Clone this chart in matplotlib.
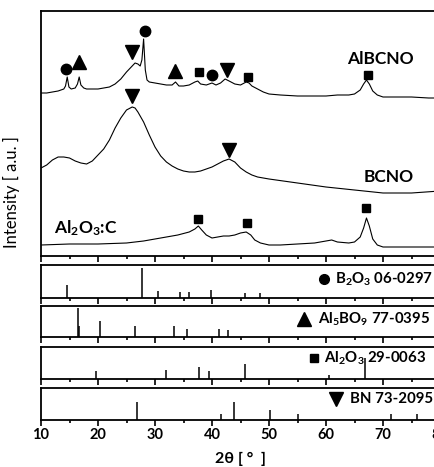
import matplotlib
matplotlib.use('Agg')
import matplotlib.pyplot as plt
import numpy as np
from matplotlib.ticker import MultipleLocator

plt.rcParams['font.family'] = ['Lato', 'DejaVu Sans']
plt.rcParams['mathtext.default'] = 'regular'

# measured XRD curves (2theta, intensity in a.u. incl. offset)
alb_x = [10, 11, 12, 13, 14, 14.3, 14.6, 14.9, 15.3, 16.0, 16.4, 16.7, 17.0, 17.5, 18, 19, 20, 21, 22, 23,
         24, 25, 26, 26.5, 27.0, 27.4, 27.7, 28.0, 28.3, 28.6, 29, 30, 31, 32, 33, 33.6, 34.2, 35, 36, 37,
         37.5, 38, 39, 40, 40.7, 41.5, 42.3, 43, 44, 45, 46, 46.5, 47, 48, 49, 50, 52, 55, 58, 60,
         62, 64, 65, 66, 66.6, 67.1, 67.6, 68.2, 69, 70, 72, 75, 78, 80]
alb_y = [163, 163, 164, 165, 167, 170, 179, 169, 167, 168, 172, 179, 171, 168, 167, 167, 167, 168, 169, 172,
         177, 184, 190, 193, 192, 190, 196, 217, 186, 176, 174, 173, 172, 171, 171, 174, 170, 170, 171, 174,
         175, 172, 171, 173, 171, 173, 177, 175, 172, 171, 174, 173, 170, 167, 164, 162, 161, 160, 160, 160,
         161, 161, 162, 166, 172, 176, 172, 165, 161, 159, 159, 159, 158, 158]

bcno_x = [10, 11, 12, 13, 14, 15, 16, 17, 18, 19, 20, 21, 22, 23, 24, 25, 26, 26.5, 27, 28, 29, 30, 31, 32,
          33, 34, 35, 36, 37, 38, 39, 40, 41, 42, 43, 44, 45, 46, 47, 48, 50, 55, 60, 65, 70, 75, 80]
bcno_y = [88, 91, 96, 99, 99, 98, 95, 93, 92, 95, 101, 107, 116, 128, 138, 146, 149, 148, 144, 134, 121, 109, 100, 94,
          90, 87, 85, 84, 84, 85, 87, 89, 92, 95, 97, 94, 88, 84, 81, 79, 77, 73, 69, 66, 63, 63, 65]

alo_x = [10, 15, 20, 25, 28, 30, 32, 34, 36, 37, 37.6, 38.2, 39, 40, 41, 42, 43, 44, 45, 46, 46.8, 47.5, 48.5,
         50, 52, 55, 58, 60, 61, 62, 64, 65, 66, 66.6, 67.1, 67.6, 68.2, 69, 70, 72, 75, 80]
alo_y = [11, 12, 12, 13, 15, 17, 19, 21, 24, 27, 30, 26, 21, 18, 19, 20, 20, 21, 23, 24, 21, 16, 13,
         11, 11, 12, 13, 15, 16, 14, 13, 14, 19, 28, 38, 30, 17, 11, 9, 9, 9, 9]

# phase markers
circ_x, circ_y = [14.4, 28.3, 40.0], [187, 225, 181]
tri_x, tri_y = [16.6, 33.5], [194, 185]
sq_x, sq_y = [37.7, 46.3, 67.4, 37.5, 46.1, 67.1], [184, 179, 181.5, 37, 33, 48]
dtri_x, dtri_y = [26.0, 42.6, 26.0, 43.0], [204, 186, 160, 106]

# reference cards (position, relative intensity)
b2o3_pos = [14.6, 27.8, 30.6, 34.4, 36.0, 39.9, 45.8, 48.4]
b2o3_int = [0.39, 0.90, 0.20, 0.18, 0.18, 0.23, 0.16, 0.15]
al5_pos = [16.5, 16.7, 20.35, 26.5, 33.3, 35.7, 41.3, 42.75]
al5_int = [0.92, 0.35, 0.52, 0.37, 0.37, 0.25, 0.25, 0.23]
al2_pos = [19.6, 31.9, 37.7, 39.5, 45.8, 60.6, 66.8]
al2_int = [0.25, 0.28, 0.39, 0.26, 0.46, 0.13, 0.66]
bn_pos = [26.8, 41.6, 43.9, 50.2, 55.1, 71.4, 75.9]
bn_int = [0.55, 0.18, 0.55, 0.32, 0.18, 0.18, 0.18]

card_names = ['B$_2$O$_3$ 06-0297', 'Al$_5$BO$_9$ 77-0395', 'Al$_2$O$_3$ 29-0063', 'BN 73-2095']
card_marks = ['o', '^', 's', 'v']
card_ms = [7, 10, 5.5, 9.5]
# marker x, text right end x, label height (axes fraction)
cards = [(b2o3_pos, b2o3_int, 59.7, 78.75, 0.58),
         (al5_pos, al5_int, 56.2, 78.25, 0.58),
         (al2_pos, al2_int, 57.9, 77.55, 0.66),
         (bn_pos, bn_int, 61.8, 78.75, 0.66)]

W, H = 434, 467
fig = plt.figure(figsize=(W / 100, H / 100), dpi=100)
left = 41 / W
width = 399 / W


def style(ax):
    ax.set_xlim(10, 80)
    ax.xaxis.set_major_locator(MultipleLocator(10))
    ax.xaxis.set_minor_locator(MultipleLocator(5))
    ax.tick_params(axis='x', which='major', direction='out', length=4, width=1.2)
    ax.tick_params(axis='x', which='minor', direction='out', length=2.5, width=1.2)
    ax.set_yticks([])
    for s in ax.spines.values():
        s.set_linewidth(1.3)


ax = fig.add_axes([left, 1 - 256 / H, width, 245 / H])
style(ax)
ax.set_ylim(0, 245)
ax.tick_params(axis='x', labelbottom=False)
ax.plot(alb_x, alb_y, color='black', lw=0.8)
ax.plot(bcno_x, bcno_y, color='black', lw=0.8)
ax.plot(alo_x, alo_y, color='black', lw=0.8)
ax.plot(circ_x, circ_y, 'o', color='black', ms=7.5, ls='none')
ax.plot(tri_x, tri_y, '^', color='black', ms=10, ls='none')
ax.plot(sq_x, sq_y, 's', color='black', ms=6.3, ls='none')
ax.plot(dtri_x, dtri_y, 'v', color='black', ms=10, ls='none')
ax.text(69.6, 197.5, 'AlBCNO', ha='center', va='center', fontsize=12.5, fontweight='bold')
ax.text(71.05, 78.5, 'BCNO', ha='center', va='center', fontsize=12.5, fontweight='bold')
ax.text(17.9, 28, 'Al$_2$O$_3$:C', ha='center', va='center', fontsize=12.5, fontweight='bold')
ax.set_ylabel('Intensity [ a.u. ]', fontsize=12)
ax.yaxis.set_label_coords(-0.053, 0.26)

tops = [265, 306, 347, 388]
bots = [298, 337, 379, 420]
for i, (pos, inten, mx, rx, ly) in enumerate(cards):
    a = fig.add_axes([left, 1 - bots[i] / H, width, (bots[i] - tops[i]) / H])
    style(a)
    a.set_ylim(0, 1)
    a.vlines(pos, 0, inten, color='black', lw=1.1)
    a.plot([mx], [ly], card_marks[i], color='black', ms=card_ms[i],
           transform=a.get_xaxis_transform(), clip_on=False)
    a.text(rx, ly, card_names[i], ha='right', va='center', fontsize=10.8, fontweight='bold',
           transform=a.get_xaxis_transform())
    if i < 3:
        a.tick_params(axis='x', labelbottom=False)
    else:
        a.tick_params(axis='x', labelsize=10.5, pad=2)
        for t in a.get_xticklabels():
            t.set_fontweight('bold')
        a.set_xlabel('2\u03b8 [ \u00b0  ]', fontsize=11.5, fontweight='bold', labelpad=7)

fig.savefig('out.png', dpi=100)
